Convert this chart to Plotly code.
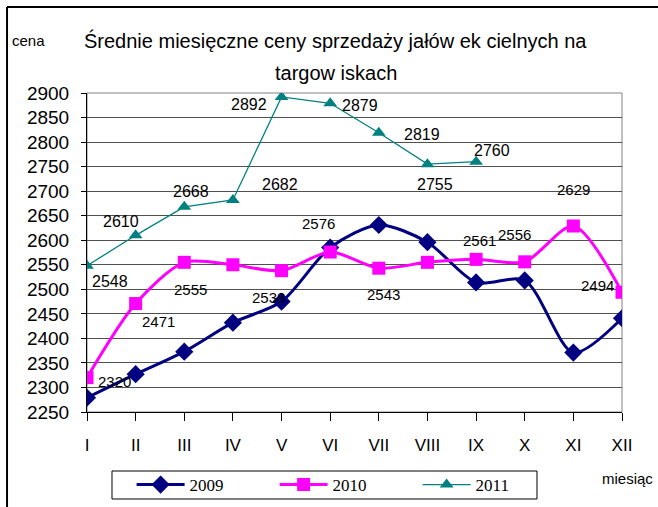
import plotly.graph_objects as go

months = ["I", "II", "III", "IV", "V", "VI", "VII", "VIII", "IX", "X", "XI", "XII"]
y2009 = [2279, 2327, 2373, 2432, 2475, 2585, 2631, 2596, 2514, 2518, 2371, 2441]
y2010 = [2320, 2471, 2555, 2550, 2538, 2576, 2543, 2555, 2561, 2556, 2629, 2494]
y2011 = [2548, 2610, 2668, 2682, 2892, 2879, 2819, 2755, 2760]

# data-label offsets in pixels (style only), None = no label
off2010 = [(27, -4), (23, -18), (6, -27), None, (-13, -27), (-12, 29), (5, -26),
           None, (3, 19), (-10, 27), (0, 37), (-25, 7)]
off2011 = [(23, -16), (-15, 14), (7, 15), (47, 15), (-33, -8), (30, -2), (43, -2),
           (8, -20), (16, 11)]

xs = list(range(len(months)))

fig = go.Figure()
fig.add_trace(go.Scatter(
    x=xs, y=y2009, name="2009", mode="lines+markers",
    line=dict(color="#000080", width=3, shape="spline", smoothing=0.8),
    marker=dict(symbol="diamond", size=14, color="#000080")))
fig.add_trace(go.Scatter(
    x=xs, y=y2010, name="2010", mode="lines+markers",
    line=dict(color="#FF00FF", width=3, shape="spline", smoothing=0.8),
    marker=dict(symbol="square", size=13, color="#FF00FF")))
fig.add_trace(go.Scatter(
    x=xs[:len(y2011)], y=y2011, name="2011", mode="lines+markers",
    line=dict(color="#008080", width=1.3),
    marker=dict(symbol="triangle-up", size=12, color="#008080")))

ann = []
for i, (v, o) in enumerate(zip(y2010, off2010)):
    if o is None:
        continue
    ann.append(dict(x=xs[i], y=v, text=str(v), showarrow=False, xshift=o[0], yshift=o[1],
                    font=dict(family="Liberation Sans, Arial", size=15, color="black")))
for i, (v, o) in enumerate(zip(y2011, off2011)):
    ann.append(dict(x=xs[i], y=v, text=str(v), showarrow=False, xshift=o[0], yshift=o[1],
                    font=dict(family="Liberation Sans, Arial", size=16, color="black")))

ann += [
    dict(xref="paper", yref="paper", x=0.4636, y=1.166, text="Średnie miesięczne ceny sprzedaży jałów ek cielnych na",
         showarrow=False, xanchor="center", yanchor="middle",
         font=dict(family="Liberation Sans, Arial", size=20, color="black")),
    dict(xref="paper", yref="paper", x=0.4655, y=1.0627, text="targow iskach",
         showarrow=False, xanchor="center", yanchor="middle",
         font=dict(family="Liberation Sans, Arial", size=20, color="black")),
    dict(xref="paper", yref="paper", x=-0.110, y=1.166, text="cena",
         showarrow=False, xanchor="center", yanchor="middle",
         font=dict(family="Liberation Sans, Arial", size=15, color="black")),
    dict(xref="paper", yref="paper", x=1.011, y=-0.207, text="miesiąc",
         showarrow=False, xanchor="center", yanchor="middle",
         font=dict(family="Liberation Sans, Arial", size=15, color="black")),
]

shapes = [
    dict(type="rect", xref="paper", yref="paper", x0=0, y0=0, x1=1, y1=1,
         line=dict(color="#808080", width=1), layer="below"),
    dict(type="line", xref="paper", yref="paper", x0=-0.1495, y0=1.2696, x1=1.1, y1=1.2696,
         line=dict(color="black", width=2)),
    dict(type="line", xref="paper", yref="paper", x0=-0.1495, y0=1.2696, x1=-0.1495, y1=-0.3,
         line=dict(color="black", width=2)),
    # legend box
    dict(type="rect", xref="paper", yref="paper", x0=0.0467, y0=-0.2727, x1=0.8411, y1=-0.185,
         line=dict(color="black", width=1), fillcolor="rgba(0,0,0,0)"),
]

fig.update_layout(
    width=658, height=507,
    margin=dict(l=87, r=36, t=93, b=95),
    paper_bgcolor="white", plot_bgcolor="white",
    showlegend=True,
    legend=dict(orientation="h", xref="container", yref="container",
                x=0.200, y=0.0434, xanchor="left", yanchor="middle",
                bgcolor="rgba(0,0,0,0)", borderwidth=0,
                itemwidth=48,
                font=dict(family="Liberation Serif, Times New Roman", size=17, color="black"),
                entrywidth=80, entrywidthmode="pixels"),
    annotations=ann, shapes=shapes,
    font=dict(family="Liberation Sans, Arial", color="black"),
)
fig.update_xaxes(range=[0, 11], tickvals=xs, ticktext=months, showgrid=False,
                 showline=True, linecolor="black", linewidth=1,
                 ticks="outside", ticklen=8, tickcolor="black", ticklabelstandoff=10,
                 tickfont=dict(family="Liberation Sans, Arial", size=17, color="black"),
                 zeroline=False)
fig.update_yaxes(range=[2250, 2900], dtick=50, showgrid=True, gridcolor="#505050", gridwidth=1,
                 showline=True, linecolor="black", linewidth=1,
                 ticks="outside", ticklen=5, tickcolor="black", ticklabelstandoff=8,
                 tickfont=dict(family="Liberation Sans, Arial", size=19, color="black"),
                 zeroline=False)

fig.write_html("out.html", config={"displayModeBar": False},
               post_script="document.body.style.margin='0';")
